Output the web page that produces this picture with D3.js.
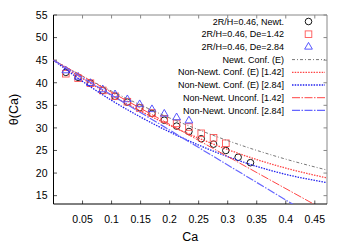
<!DOCTYPE html>
<html>
<head>
<meta charset="utf-8">
<script src="https://cdn.jsdelivr.net/npm/d3@7"></script>
<style>
  body { margin: 0; background: #fff; }
  text { font-family: "Liberation Sans", Arial, sans-serif; fill: #000; }
</style>
</head>
<body>
<div id="chart-container"></div>
<script>
// Data

const newtCa = [0.0212, 0.0424, 0.0636, 0.0848, 0.106, 0.1272, 0.1484, 0.1696, 0.1908, 0.212, 0.2332, 0.2544, 0.2756, 0.2968, 0.318, 0.3392];
const newtTheta = [42.3, 41.2, 39.9, 38.3, 37.0, 35.7, 34.5, 33.2, 31.7, 30.4, 29.2, 27.6, 26.4, 25.0, 23.5, 22.3];

const de142Ca = [0.0212, 0.0424, 0.0636, 0.0848, 0.106, 0.1272, 0.1484, 0.1696, 0.1908, 0.212, 0.2332, 0.2544, 0.2756, 0.2968];
const de142Theta = [42.0, 41.0, 39.9, 38.3, 37.0, 35.8, 34.4, 33.3, 32.0, 31.0, 30.2, 28.8, 27.8, 26.6];

const de284Ca = [0.0212, 0.0424, 0.0636, 0.0848, 0.106, 0.1272, 0.1484, 0.1696, 0.1908, 0.212, 0.2332];
const de284Theta = [42.7, 41.3, 39.9, 38.5, 37.4, 36.3, 35.2, 34.1, 33.1, 32.3, 31.6];

const curveCa = [0, 0.05, 0.1, 0.15, 0.2, 0.25, 0.3, 0.35, 0.4, 0.47];
const newtConf = [45, 41.46, 38.15, 35.07, 32.21, 29.59, 27.18, 25.02, 23.08, 20.7];
const nonNewtConf142 = [45, 40.92, 37.17, 33.71, 30.57, 27.73, 25.21, 22.99, 21.09, 18.95];
const nonNewtConf284 = [45, 40.3, 36.1, 32.4, 29.1, 26.2, 23.64, 21.47, 19.71, 17.9];

const unconfCa = [0, 0.45];
const unconf142 = [45, 13.0];
const unconfCa284 = [0, 0.42];
const unconf284 = [45, 12.5];

const xTicks = [0.05, 0.1, 0.15, 0.2, 0.25, 0.3, 0.35, 0.4, 0.45];
const yTicks = [15, 20, 25, 30, 35, 40, 45, 50, 55];

const legendLabels = [
  "2R/H=0.46, Newt.",
  "2R/H=0.46, De=1.42",
  "2R/H=0.46, De=2.84",
  "Newt. Conf. (E)",
  "Non-Newt. Conf. (E) [1.42]",
  "Non-Newt. Conf. (E) [2.84]",
  "Non-Newt. Unconf. [1.42]",
  "Non-Newt. Unconf. [2.84]"
];

// Set dimensions and margins

const margin = { top: 15, right: 23, bottom: 41, left: 53.5 };
const width = 350 - margin.left - margin.right;
const height = 245 - margin.top - margin.bottom;

const x = d3.scaleLinear().domain([0, 0.471]).range([0, width]);
const y = d3.scaleLinear().domain([13.15, 55]).range([height, 0]);

const svg = d3.select("#chart-container")
  .append("svg")
    .attr("width", 350)
    .attr("height", 245)
  .append("g")
    .attr("transform", `translate(${margin.left},${margin.top})`);

svg.append("clipPath").attr("id", "clip")
  .append("rect").attr("width", width).attr("height", height);

// border: top and right grey, left and bottom black
svg.append("line").attr("x1", 0).attr("x2", width).attr("y1", 0).attr("y2", 0)
  .attr("stroke", "#888").attr("stroke-width", 1);
svg.append("line").attr("x1", width).attr("x2", width).attr("y1", 0).attr("y2", height)
  .attr("stroke", "#888").attr("stroke-width", 1);

// ticks (inward, mirrored)
const tickLen = 3.5;
xTicks.forEach(t => {
  svg.append("line").attr("x1", x(t)).attr("x2", x(t)).attr("y1", height).attr("y2", height - tickLen)
    .attr("stroke", "#555");
  svg.append("line").attr("x1", x(t)).attr("x2", x(t)).attr("y1", 0).attr("y2", tickLen)
    .attr("stroke", "#888");
});
yTicks.forEach(t => {
  svg.append("line").attr("x1", 0).attr("x2", tickLen).attr("y1", y(t)).attr("y2", y(t))
    .attr("stroke", "#555");
  svg.append("line").attr("x1", width).attr("x2", width - tickLen).attr("y1", y(t)).attr("y2", y(t))
    .attr("stroke", "#888");
});

svg.append("line").attr("x1", 0).attr("x2", width).attr("y1", height).attr("y2", height)
  .attr("stroke", "#000");
svg.append("line").attr("x1", 0).attr("x2", 0).attr("y1", 0).attr("y2", height)
  .attr("stroke", "#000");

// tick labels
svg.selectAll(".xlab")
  .data(xTicks)
  .join("text")
  .attr("x", d => x(d))
  .attr("y", height + 18.5)
  .attr("text-anchor", "middle")
  .style("font-size", "10.5px")
  .text(d => d);

svg.selectAll(".ylab")
  .data(yTicks)
  .join("text")
  .attr("x", -6)
  .attr("y", d => y(d))
  .attr("dy", "0.36em")
  .attr("text-anchor", "end")
  .style("font-size", "10.5px")
  .text(d => d);

// axis titles
svg.append("text")
  .attr("x", width / 2)
  .attr("y", height + 36.5)
  .attr("text-anchor", "middle")
  .style("font-size", "12.5px")
  .text("Ca");

svg.append("text")
  .attr("transform", `translate(-40,${height / 2}) rotate(-90)`)
  .attr("dy", "0.36em")
  .attr("text-anchor", "middle")
  .style("font-size", "12.5px")
  .text("θ(Ca)");

// line styles
const styles = [
  { color: "#777", width: 1, dash: "3,2,1,2" },
  { color: "#f44", width: 1.3, dash: "1.5,1.2" },
  { color: "#22e", width: 1.3, dash: "1.5,1.2" },
  { color: "#f44", width: 1, dash: "8,1.5,1.5,1.5" },
  { color: "#66f", width: 1.2, dash: "8,1.5,1.5,1.5" }
];

const line = d3.line()
  .x(d => x(d[0]))
  .y(d => y(d[1]))
  .curve(d3.curveMonotoneX);

const lineSeries = [
  d3.zip(curveCa, newtConf),
  d3.zip(curveCa, nonNewtConf142),
  d3.zip(curveCa, nonNewtConf284),
  d3.zip(unconfCa, unconf142),
  d3.zip(unconfCa284, unconf284)
];

const plot = svg.append("g").attr("clip-path", "url(#clip)");

// markers
plot.selectAll(".circ")
  .data(d3.zip(newtCa, newtTheta))
  .join("circle")
  .attr("cx", d => x(d[0]))
  .attr("cy", d => y(d[1]))
  .attr("r", 3.3)
  .attr("fill", "none")
  .attr("stroke", "#000")
  .attr("stroke-width", 0.9);

plot.selectAll(".sq")
  .data(d3.zip(de142Ca, de142Theta))
  .join("rect")
  .attr("x", d => x(d[0]) - 3.3)
  .attr("y", d => y(d[1]) - 3.3)
  .attr("width", 6.6)
  .attr("height", 6.6)
  .attr("fill", "none")
  .attr("stroke", "#f55")
  .attr("stroke-width", 0.9);

const tri = d3.symbol().type(d3.symbolTriangle).size(26);
plot.selectAll(".tri")
  .data(d3.zip(de284Ca, de284Theta))
  .join("path")
  .attr("transform", d => `translate(${x(d[0])},${y(d[1])})`)
  .attr("d", tri)
  .attr("fill", "none")
  .attr("stroke", "#44f")
  .attr("stroke-width", 0.9);

lineSeries.forEach((s, i) => {
  plot.append("path")
    .datum(s)
    .attr("fill", "none")
    .attr("stroke", styles[i].color)
    .attr("stroke-width", styles[i].width)
    .attr("stroke-dasharray", styles[i].dash)
    .attr("d", line);
});

// legend
const legX = 284 - margin.left;
const sampleX1 = 292 - margin.left;
const sampleX2 = 325 - margin.left;
const legendY = i => 21.5 + i * 12.7 - margin.top;

legendLabels.forEach((label, i) => {
  svg.append("text")
    .attr("x", legX)
    .attr("y", legendY(i))
    .attr("dy", "0.35em")
    .attr("text-anchor", "end")
    .style("font-size", "9px")
    .text(label);
});

const mx = (sampleX1 + sampleX2) / 2;
svg.append("circle").attr("cx", mx).attr("cy", legendY(0)).attr("r", 3.3)
  .attr("fill", "none").attr("stroke", "#000").attr("stroke-width", 0.9);
svg.append("rect").attr("x", mx - 3.3).attr("y", legendY(1) - 3.3).attr("width", 6.6).attr("height", 6.6)
  .attr("fill", "none").attr("stroke", "#f55").attr("stroke-width", 0.9);
svg.append("path").attr("transform", `translate(${mx},${legendY(2)})`).attr("d", tri)
  .attr("fill", "none").attr("stroke", "#44f").attr("stroke-width", 0.9);

styles.forEach((s, i) => {
  svg.append("line")
    .attr("x1", sampleX1).attr("x2", sampleX2)
    .attr("y1", legendY(i + 3)).attr("y2", legendY(i + 3))
    .attr("stroke", s.color)
    .attr("stroke-width", s.width)
    .attr("stroke-dasharray", s.dash);
});
</script>
</body>
</html>
